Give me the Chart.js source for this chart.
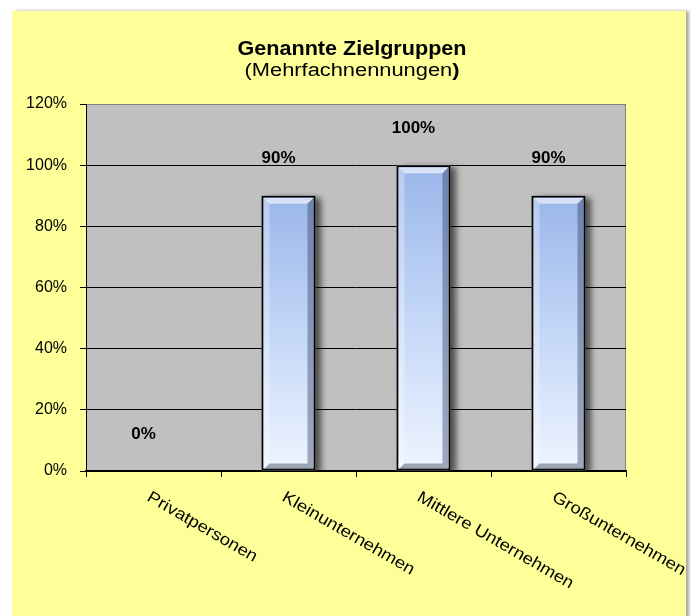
<!DOCTYPE html>
<html><head><meta charset="utf-8">
<script src="https://cdn.jsdelivr.net/npm/chart.js@4"></script>
<style>
html,body{margin:0;padding:0;background:#fff;width:691px;height:616px;overflow:hidden;}
#panel{position:absolute;left:12px;top:11px;width:674px;height:620px;background:#FFFF99;box-shadow:3px 0 3px rgba(0,0,0,0.35);}
#wrap{position:absolute;left:0;top:0;width:691px;height:616px;}
</style></head><body>
<div id="panel"></div>
<div id="wrap"><canvas id="c" width="691" height="616"></canvas></div>
<script>
const categories = ['Privatpersonen', 'Kleinunternehmen', 'Mittlere Unternehmen', 'Großunternehmen'];
const values = [0, 90, 100, 90];
const yTicks = [0, 20, 40, 60, 80, 100, 120];
const titleText = 'Genannte Zielgruppen';
const subtitleMain = '(Mehrfachnennungen';
const subtitleEnd = ')';

const FONT = '"Liberation Sans", Arial, sans-serif';

const bgPlugin = {
  id: 'plotBg',
  beforeDraw(chart) {
    const {ctx, chartArea: a} = chart;
    ctx.save();
    ctx.fillStyle = '#C0C0C0';
    ctx.fillRect(a.left, a.top, a.right - a.left, a.bottom - a.top);
    ctx.strokeStyle = '#808080';
    ctx.lineWidth = 1;
    ctx.strokeRect(a.left + 0.5, a.top + 0.5, a.right - a.left - 1, a.bottom - a.top - 1);
    ctx.restore();
  }
};

const barDeco = {
  id: 'barDeco',
  beforeDatasetsDraw(chart) {
    const {ctx, chartArea: a} = chart;
    const meta = chart.getDatasetMeta(0);
    ctx.save();
    ctx.beginPath();
    ctx.rect(a.left, a.top, a.right - a.left, a.bottom - a.top);
    ctx.clip();
    meta.data.forEach(el => {
      const h = el.base - el.y;
      if (h < 2) return;
      ctx.save();
      ctx.shadowColor = 'rgba(0,0,0,0.6)';
      ctx.shadowBlur = 6;
      ctx.shadowOffsetX = 5;
      ctx.shadowOffsetY = 2;
      ctx.fillStyle = '#808080';
      ctx.fillRect(el.x - el.width / 2, el.y, el.width, h);
      ctx.restore();
    });
    ctx.restore();
  },
  afterDatasetsDraw(chart) {
    const {ctx} = chart;
    const meta = chart.getDatasetMeta(0);
    ctx.save();
    meta.data.forEach((el, i) => {
      const h = el.base - el.y;
      if (h > 14) {
        const l = el.x - el.width / 2 + 2, r = el.x + el.width / 2 - 2;
        const t = el.y + 2, bt = el.base - 1;
        const b = 6;
        const poly = (pts, col) => {
          ctx.beginPath();
          ctx.moveTo(pts[0][0], pts[0][1]);
          for (let k = 1; k < pts.length; k++) ctx.lineTo(pts[k][0], pts[k][1]);
          ctx.closePath();
          ctx.fillStyle = col;
          ctx.fill();
        };
        poly([[l, t], [r, t], [r - b, t + b], [l + b, t + b]], 'rgba(255,255,255,0.6)');
        poly([[l, t], [l + b, t + b], [l + b, bt - b], [l, bt]], 'rgba(255,255,255,0.3)');
        poly([[r, t], [r - b, t + b], [r - b, bt - b], [r, bt]], 'rgba(40,55,90,0.4)');
        poly([[l, bt], [r, bt], [r - b, bt - b], [l + b, bt - b]], 'rgba(60,70,90,0.45)');
      }
      ctx.fillStyle = '#000';
      ctx.font = 'bold 17px ' + FONT;
      ctx.textAlign = 'center';
      ctx.textBaseline = 'middle';
      ctx.fillText(values[i] + '%', el.x - 10, el.y - 37);
    });
    ctx.restore();
  },
  afterDraw(chart) {
    const {ctx, chartArea: a, scales} = chart;
    ctx.save();
    ctx.fillStyle = '#000';
    ctx.font = 'bold 20px ' + FONT;
    ctx.textBaseline = 'alphabetic';
    ctx.textAlign = 'center';
    let w = ctx.measureText(titleText).width;
    ctx.save();
    ctx.translate(352, 55);
    ctx.scale(229 / w, 1);
    ctx.fillText(titleText, 0, 0);
    ctx.restore();
    ctx.font = '18px ' + FONT;
    const w1 = ctx.measureText(subtitleMain).width;
    ctx.font = 'bold 18px ' + FONT;
    const w2 = ctx.measureText(subtitleEnd).width;
    const sx = 215 / (w1 + w2);
    ctx.save();
    ctx.translate(352, 76);
    ctx.scale(sx, 1);
    ctx.textAlign = 'left';
    ctx.font = '18px ' + FONT;
    ctx.fillText(subtitleMain, -(w1 + w2) / 2, 0);
    ctx.font = 'bold 18px ' + FONT;
    ctx.fillText(subtitleEnd, -(w1 + w2) / 2 + w1, 0);
    ctx.restore();
    ctx.font = '16.5px ' + FONT;
    ctx.textAlign = 'left';
    ctx.textBaseline = 'top';
    categories.forEach((c, i) => {
      const x = scales.x.getPixelForValue(i);
      ctx.save();
      ctx.translate(x - 1, a.bottom + 18);
      ctx.rotate(Math.PI / 6);
      ctx.scale(1.12, 1);
      ctx.fillText(c, 0, 0);
      ctx.restore();
    });
    ctx.restore();
  }
};

new Chart(document.getElementById('c'), {
  type: 'bar',
  data: {
    labels: categories,
    datasets: [{
      data: values,
      backgroundColor: (ctx) => {
        const chart = ctx.chart;
        const {chartArea, scales} = chart;
        if (!chartArea || ctx.type !== 'data') return '#B8CDF2';
        const top = scales.y.getPixelForValue(ctx.raw);
        const bottom = scales.y.getPixelForValue(0);
        if (bottom - top < 1) return '#B8CDF2';
        const g = chart.ctx.createLinearGradient(0, top, 0, bottom);
        g.addColorStop(0, '#9AB6EA');
        g.addColorStop(0.5, '#C4D7F7');
        g.addColorStop(1, '#EEF4FF');
        return g;
      },
      borderColor: '#000',
      borderWidth: 2,
      borderSkipped: false,
      barPercentage: 0.8,
      categoryPercentage: 0.5
    }]
  },
  options: {
    responsive: false,
    animation: false,
    devicePixelRatio: 1,
    layout: {padding: {left: 20, right: 65, top: 104, bottom: 0}},
    plugins: {legend: {display: false}, tooltip: {enabled: false}, title: {display: false}},
    scales: {
      x: {
        grid: {display: true, drawOnChartArea: false, drawTicks: true, tickLength: 6, color: '#000', offset: true},
        border: {display: true, color: '#000', width: 1.5},
        ticks: {display: false},
        afterFit: (s) => { s.height = 145; }
      },
      y: {
        min: 0, max: 120,
        afterBuildTicks: (s) => { s.ticks = yTicks.map(v => ({value: v})); },
        ticks: {
          callback: (v) => v + '%',
          color: '#000',
          font: {family: FONT, size: 16},
          padding: 13
        },
        grid: {
          color: (c) => (c.tick && c.tick.value === 120) ? '#808080' : '#000',
          tickColor: '#000',
          tickLength: 6,
          lineWidth: 1
        },
        border: {display: true, color: '#000', width: 1},
        afterFit: (s) => { s.width = 66; }
      }
    }
  },
  plugins: [bgPlugin, barDeco]
});
</script>
</body></html>
